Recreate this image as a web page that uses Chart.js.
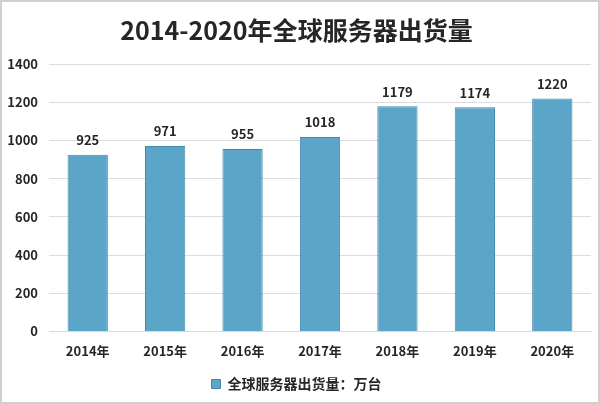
<!DOCTYPE html>
<html>
<head>
<meta charset="utf-8">
<script src="https://cdn.jsdelivr.net/npm/chart.js@4.4.1/dist/chart.umd.min.js"></script>
<style>
    html, body { margin: 0; padding: 0; background: #fff; }
    #wrap {
        width: 600px; height: 404px;
        box-sizing: border-box;
        border: 2px solid #cfcfcf;
        background: #fff;
    }
</style>
</head>
<body>
<div id="wrap"><canvas id="serverChart" width="596" height="400"></canvas></div>
<script>
// Данные графика
const years = ['2014年', '2015年', '2016年', '2017年', '2018年', '2019年', '2020年'];
const shipments = [925, 971, 955, 1018, 1179, 1174, 1220];
const yTicks = [0, 200, 400, 600, 800, 1000, 1200, 1400];

const FONT = '"Noto Sans CJK SC", "Noto Sans", sans-serif';

// Подписи значений над столбцами
const valueLabels = {
    id: 'valueLabels',
    afterDatasetsDraw(chart) {
        const ctx = chart.ctx;
        const meta = chart.getDatasetMeta(0);
        ctx.save();
        ctx.font = 'bold 13px ' + FONT;
        ctx.fillStyle = '#262626';
        ctx.textAlign = 'center';
        ctx.textBaseline = 'bottom';
        meta.data.forEach((bar, i) => {
            ctx.fillText(String(shipments[i]), bar.x, bar.y - 8);
        });
        ctx.restore();
    }
};

function initServerChart() {
    const ctx = document.getElementById('serverChart');
    if (!ctx) return;

    new Chart(ctx, {
        type: 'bar',
        data: {
            labels: years,
            datasets: [{
                label: '全球服务器出货量：万台',
                data: shipments,
                backgroundColor: '#5ba6c8',
                borderColor: '#4289a8',
                borderWidth: 1,
                categoryPercentage: 1,
                barPercentage: 0.52
            }]
        },
        options: {
            responsive: false,
            animation: false,
            layout: { padding: { left: 0, right: 7, bottom: 1 } },
            plugins: {
                title: {
                    display: true,
                    text: '2014-2020年全球服务器出货量',
                    color: '#262626',
                    font: { family: FONT, size: 25, weight: 'bold' },
                    padding: { top: 13, bottom: 19 }
                },
                legend: {
                    position: 'bottom',
                    labels: {
                        color: '#262626',
                        font: { family: FONT, size: 14, weight: 'bold' },
                        boxWidth: 9,
                        boxHeight: 9,
                        padding: 6
                    }
                },
                tooltip: { enabled: false }
            },
            scales: {
                x: {
                    grid: { display: false, drawTicks: false },
                    border: { color: '#d9d9d9' },
                    ticks: {
                        color: '#262626',
                        font: { family: FONT, size: 13, weight: 'bold' },
                        padding: 12
                    }
                },
                y: {
                    min: 0,
                    max: 1400,
                    afterBuildTicks(scale) {
                        scale.ticks = yTicks.map(v => ({ value: v }));
                    },
                    afterFit(scale) {
                        scale.width = 47;
                    },
                    grid: { color: '#dcdcdc', drawTicks: false },
                    border: { display: false },
                    ticks: {
                        color: '#262626',
                        font: { family: FONT, size: 13, weight: 'bold' },
                        padding: 11,
                        callback: (value) => String(value)
                    }
                }
            }
        },
        plugins: [valueLabels]
    });
}

document.addEventListener('DOMContentLoaded', () => {
    initServerChart();
});
</script>
</body>
</html>
